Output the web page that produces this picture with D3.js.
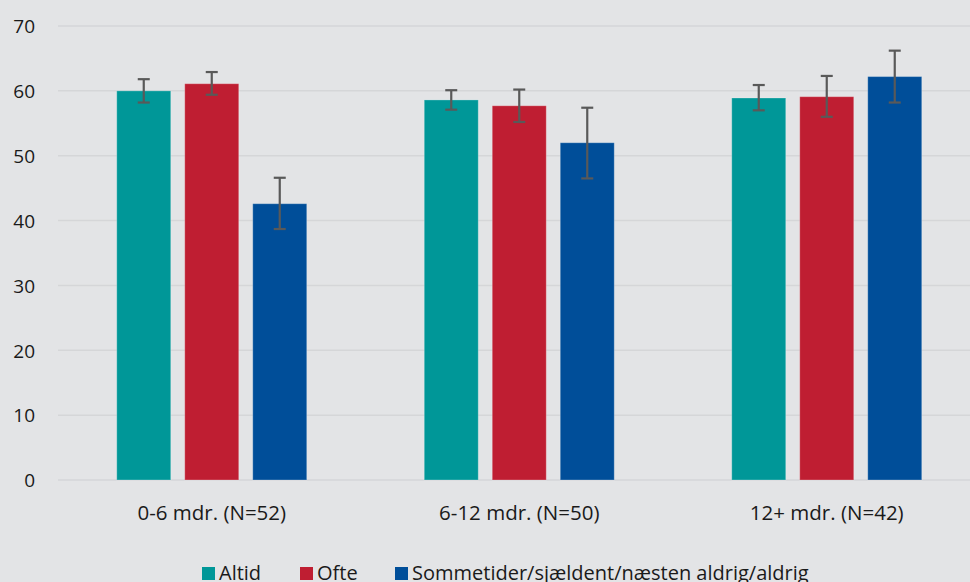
<!DOCTYPE html>
<html><head><meta charset="utf-8">
<script src="https://cdn.jsdelivr.net/npm/d3@7/dist/d3.min.js"></script>
<style>
html,body{margin:0;padding:0;background:#E3E4E6;}
text{font-family:"Open Sans","Noto Sans",sans-serif;}
</style></head>
<body><svg id="c" width="970" height="582"></svg>
<script>
const categories = ["0-6 mdr. (N=52)", "6-12 mdr. (N=50)", "12+ mdr. (N=42)"];
const series = ["Altid", "Ofte", "Sommetider/sjældent/næsten aldrig/aldrig"];
const colors = ["#009798", "#BF1E32", "#004E99"];
const altid = [60.0, 58.6, 58.9];
const ofte = [61.1, 57.7, 59.1];
const sommetider = [42.6, 52.0, 62.2];
const altidLow = [58.2, 57.1, 57.0];
const altidHigh = [61.8, 60.1, 60.9];
const ofteLow = [59.4, 55.2, 56.0];
const ofteHigh = [62.9, 60.2, 62.3];
const sommetiderLow = [38.7, 46.5, 58.2];
const sommetiderHigh = [46.6, 57.4, 66.2];
const yTicks = [0, 10, 20, 30, 40, 50, 60, 70];

const values = [altid, ofte, sommetider];
const lows = [altidLow, ofteLow, sommetiderLow];
const highs = [altidHigh, ofteHigh, sommetiderHigh];

const svg = d3.select("#c");
const W = 970, H = 582;
svg.append("rect").attr("width", W).attr("height", H).attr("fill", "#E3E4E6");

const y = d3.scaleLinear().domain([0, 70]).range([480, 26]);
const x0 = d3.scaleBand().domain(categories).range([58, 980.5]).padding(0);
const x1 = d3.scaleBand().domain(series).range([-102, 102]).paddingInner(14/68).paddingOuter(7/68);

// gridlines
svg.append("g").selectAll("line").data(yTicks).join("line")
  .attr("x1", 58).attr("x2", W)
  .attr("y1", d => y(d)).attr("y2", d => y(d))
  .attr("stroke", "#D5D6D8").attr("stroke-width", 1.5);

// y axis labels
const yAxis = d3.axisLeft(y).tickValues(yTicks).tickSize(0).tickPadding(0);
const ya = svg.append("g").attr("transform", "translate(35,0)").call(yAxis);
ya.select(".domain").remove();
ya.selectAll("text").attr("font-size", 19).attr("fill", "#1a1a1a").attr("dy", "0.36em");

// x axis labels
const xAxis = d3.axisBottom(x0).tickSize(0).tickPadding(0);
const xa = svg.append("g").attr("transform", "translate(0,520)").call(xAxis);
xa.select(".domain").remove();
xa.selectAll("text").attr("font-size", 20.5).attr("fill", "#1a1a1a").attr("y", 0).attr("dy", 0);

// bars
const rows = [];
categories.forEach((c, i) => series.forEach((s, j) => rows.push({c, s, j, v: values[j][i], lo: lows[j][i], hi: highs[j][i]})));

const g = svg.append("g");
g.selectAll("rect").data(rows).join("rect")
  .attr("x", d => x0(d.c) + x0.bandwidth() / 2 + x1(d.s))
  .attr("width", x1.bandwidth())
  .attr("y", d => y(d.v))
  .attr("height", d => y(0) - y(d.v))
  .attr("fill", d => colors[d.j])
  .attr("stroke", "rgba(255,255,255,0.25)").attr("stroke-width", 1);

// error bars
const eb = svg.append("g").attr("stroke", "#595959").attr("stroke-width", 2.2);
rows.forEach(d => {
  const cx = x0(d.c) + x0.bandwidth() / 2 + x1(d.s) + x1.bandwidth() / 2;
  eb.append("line").attr("x1", cx).attr("x2", cx).attr("y1", y(d.hi)).attr("y2", y(d.lo));
  eb.append("line").attr("x1", cx - 6).attr("x2", cx + 6).attr("y1", y(d.hi)).attr("y2", y(d.hi));
  eb.append("line").attr("x1", cx - 6).attr("x2", cx + 6).attr("y1", y(d.lo)).attr("y2", y(d.lo));
});

// legend
const legendX = [202, 300, 395];
const lg = svg.append("g");
series.forEach((s, j) => {
  lg.append("rect").attr("x", legendX[j]).attr("y", 567).attr("width", 13).attr("height", 13).attr("fill", colors[j]);
  lg.append("text").attr("x", legendX[j] + 17).attr("y", 580).attr("font-size", 20).attr("fill", "#1a1a1a").text(s);
});
</script></body></html>
